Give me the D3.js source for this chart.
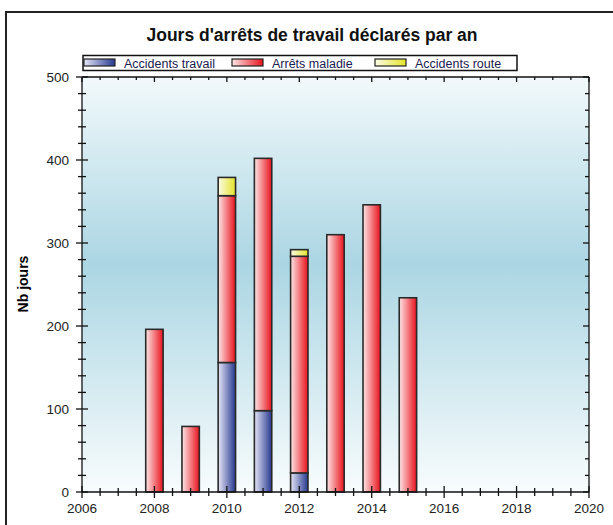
<!DOCTYPE html>
<html><head><meta charset="utf-8">
<script src="https://cdn.jsdelivr.net/npm/d3@7"></script>
<style>
html,body{margin:0;padding:0;background:#fff;}
svg{display:block;font-family:"Liberation Sans",Arial,sans-serif;}
</style></head>
<body>
<svg id="chart" width="613" height="525"></svg>
<script>
const years = [2008, 2009, 2010, 2011, 2012, 2013, 2014, 2015];
const accidentsTravail = [0, 0, 156, 98, 23, 0, 0, 0];
const arretsMaladie = [196, 79, 201, 304, 261, 310, 346, 234];
const accidentsRoute = [0, 0, 22, 0, 8, 0, 0, 0];
const seriesNames = ["Accidents travail", "Arrêts maladie", "Accidents route"];
const xTickLabels = [2006, 2008, 2010, 2012, 2014, 2016, 2018, 2020];
const yTickLabels = [0, 100, 200, 300, 400, 500];

const svg = d3.select("#chart");
const defs = svg.append("defs");

const L = 82, R = 589, T = 77, B = 492;
const x = d3.scaleLinear().domain([2006, 2020]).range([L, R]);
const y = d3.scaleLinear().domain([0, 500]).range([B, T]);

// outer frame
svg.append("rect").attr("x", 6).attr("y", 12).attr("width", 620).attr("height", 530)
  .attr("fill", "#fff").attr("stroke", "#222").attr("stroke-width", 2);

// background gradient
const bg = defs.append("linearGradient").attr("id", "bg").attr("x1", 0).attr("y1", 0).attr("x2", 0).attr("y2", 1);
bg.append("stop").attr("offset", "0%").attr("stop-color", "#f2f9fb");
bg.append("stop").attr("offset", "45%").attr("stop-color", "#abd6e3");
bg.append("stop").attr("offset", "100%").attr("stop-color", "#f8fcfd");
svg.append("rect").attr("x", L).attr("y", T).attr("width", R - L).attr("height", B - T).attr("fill", "url(#bg)");

function hgrad(id, c0, c1) {
  const g = defs.append("linearGradient").attr("id", id).attr("x1", 0).attr("y1", 0).attr("x2", 1).attr("y2", 0);
  g.append("stop").attr("offset", "0%").attr("stop-color", c0);
  g.append("stop").attr("offset", "100%").attr("stop-color", c1);
}
hgrad("gBlue", "#e6e6f6", "#26388f");
hgrad("gRed", "#fde6e6", "#e8121c");
hgrad("gYel", "#fbfbe6", "#e4e42a");
const fills = ["url(#gBlue)", "url(#gRed)", "url(#gYel)"];

// stacked data
const table = years.map((yr, i) => ({year: yr, s0: accidentsTravail[i], s1: arretsMaladie[i], s2: accidentsRoute[i]}));
const stack = d3.stack().keys(["s0", "s1", "s2"])(table);
const bw = x(2006.48) - x(2006);

stack.forEach((layer, li) => {
  svg.append("g").selectAll("rect").data(layer.filter(d => d[1] - d[0] > 0)).join("rect")
    .attr("x", d => x(d.data.year) - bw / 2)
    .attr("y", d => y(d[1]))
    .attr("width", bw)
    .attr("height", d => y(d[0]) - y(d[1]))
    .attr("fill", fills[li])
    .attr("stroke", "#2a2a2a").attr("stroke-width", 1.6);
});

// axes
const axCol = "#111";
const g = svg.append("g").attr("stroke", axCol).attr("stroke-width", 1.3);
g.append("line").attr("x1", L).attr("x2", R).attr("y1", B).attr("y2", B);
g.append("line").attr("x1", L).attr("x2", R).attr("y1", T).attr("y2", T);
g.append("line").attr("x1", L).attr("x2", L).attr("y1", T).attr("y2", B);
g.append("line").attr("x1", R).attr("x2", R).attr("y1", T).attr("y2", B);

const xMinor = d3.range(2006, 2020.01, 0.5);
const yMinor = d3.range(0, 500.01, 20);
xMinor.forEach(v => {
  const major = Math.abs(v / 2 - Math.round(v / 2)) < 1e-6;
  const h = major ? 6 : 4;
  g.append("line").attr("x1", x(v)).attr("x2", x(v)).attr("y1", B - h).attr("y2", B + h);
  g.append("line").attr("x1", x(v)).attr("x2", x(v)).attr("y1", T).attr("y2", T + (major ? 5 : 3));
});
yMinor.forEach(v => {
  const major = v % 100 === 0;
  const h = major ? 6 : 4;
  g.append("line").attr("y1", y(v)).attr("y2", y(v)).attr("x1", L - h).attr("x2", L + h);
  g.append("line").attr("y1", y(v)).attr("y2", y(v)).attr("x1", R).attr("x2", R - (major ? 6 : 4));
});

// tick labels
svg.append("g").selectAll("text").data(xTickLabels).join("text")
  .attr("x", d => x(d)).attr("y", B + 21).attr("text-anchor", "middle")
  .attr("font-size", 13.5).attr("fill", "#222").text(d => d);
svg.append("g").selectAll("text").data(yTickLabels).join("text")
  .attr("x", L - 13).attr("y", d => y(d) + 5).attr("text-anchor", "end")
  .attr("font-size", 13.5).attr("fill", "#222").text(d => d);

// y-axis title
svg.append("text").attr("transform", "translate(28,284) rotate(-90)")
  .attr("text-anchor", "middle").attr("font-size", 14).attr("font-weight", "bold")
  .attr("fill", "#000").text("Nb jours");

// title
svg.append("text").attr("x", 312).attr("y", 41).attr("text-anchor", "middle")
  .attr("font-size", 17.5).attr("font-weight", "bold").attr("fill", "#111")
  .text("Jours d'arrêts de travail déclarés par an");

// legend
const lg = svg.append("g");
lg.append("rect").attr("x", 83).attr("y", 55.5).attr("width", 434).attr("height", 15)
  .attr("fill", "#fff").attr("stroke", "#111").attr("stroke-width", 1.5);
const legX = [84, 232, 375];
seriesNames.forEach((n, i) => {
  lg.append("rect").attr("x", legX[i]).attr("y", 59).attr("width", 31).attr("height", 7)
    .attr("fill", fills[i]).attr("stroke", "#222").attr("stroke-width", 1.2);
  lg.append("text").attr("x", legX[i] + 40).attr("y", 67.5).attr("font-size", 12.5)
    .attr("fill", "#1a2050").text(n);
});
</script>
</body></html>
